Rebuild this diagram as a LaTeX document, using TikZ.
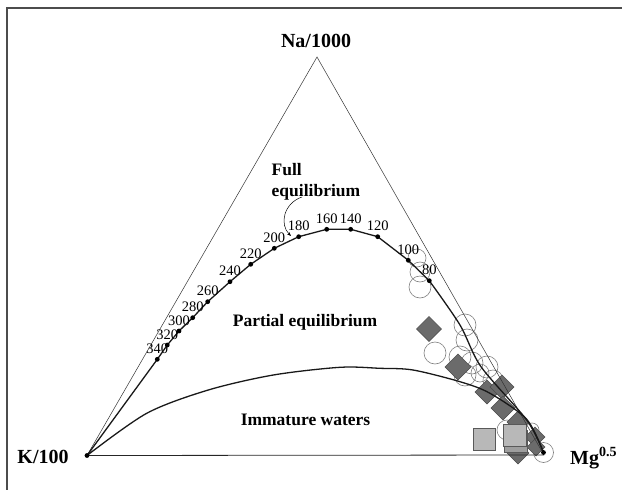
\documentclass[tikz,border=0pt]{standalone}
\usepackage{fontspec}
\setmainfont{Liberation Serif}
\usetikzlibrary{arrows.meta}
\begin{document}
\begin{tikzpicture}[x=1pt,y=-1pt,
  bigtxt/.style={font=\fontsize{17.5}{20}\selectfont\bfseries, inner sep=0pt},
  axtxt/.style={font=\fontsize{20}{22}\selectfont\bfseries, inner sep=0pt},
  numtxt/.style={font=\fontsize{14.5}{16}\selectfont, inner sep=0pt},
  tri/.style={line width=0.5pt, black!80},
  curve/.style={line width=1.3pt, black!90},
  circmark/.style={draw=black!50, line width=0.6pt},
  diammark/.style={fill=black!58, draw=black!70, line width=0.5pt},
  sqmark/.style={fill=black!28, draw=black!65, line width=0.6pt},
  dotmark/.style={fill=black}
]
\useasboundingbox (0,0) rectangle (622,490);
% frame (only top and left visible)
\draw[line width=1.6pt, black!70] (7,490) -- (7,8) -- (622,8);

% triangle vertices
\coordinate (K) at (87,455.5);
\coordinate (M) at (544,455);
\coordinate (N) at (317,57);

% circles
\foreach \x/\y/\r in {417/258/9, 420/272/10, 420/287/11,
  465/325/11, 467/340/11, 435/353/11, 460/357/11, 472/363/11,
  487/367/11, 465/375/11, 493/380/10, 480/373/9, 507/430/10, 532/430/7, 543.5/452.5/10}
  \draw[circmark] (\x,\y) circle (\r);

% diamonds
\foreach \x/\y/\h in {429/329/12.5, 458/367/13, 487/392/12, 502/387/12,
  503/408/12, 518/422/11, 518/453/11, 535/437/10, 536/447/9}
  \draw[diammark] (\x,\y-\h) -- (\x+\h,\y) -- (\x,\y+\h) -- (\x-\h,\y) -- cycle;

% squares
\draw[sqmark] (473.5,428) rectangle (495.5,450);
\draw[sqmark, fill=black!38] (504,430.5) rectangle (527,452.5);
\draw[sqmark] (503,424) rectangle (526,446);

% triangle
\draw[tri] (K) -- (N) -- (M);
\draw[line width=0.8pt, black!85] (K) -- (M);

% immature waters boundary
\draw[curve] plot[smooth, tension=0.5] coordinates {(87,455.5) (146.7,413.3) (208.3,390) (273.3,375) (340,367.3) (380,368.3) (413,370) (460,381.7) (490,393.3) (526.7,419.3) (543.5,452.5)};

% full equilibrium curve
\draw[curve] (87,455.5) -- (157.3,359.3) -- (167.3,345) -- (179,331) -- (192.7,317.7) -- (207.7,301.7) -- (230,281.7) -- (250.7,264.3) -- (274.3,248.3) -- (298.7,236.7) -- (326.7,229.3) -- (350.7,229.3) -- (377.7,236.7) -- (408.3,260.3) -- (429.3,280.7);
\draw[curve] plot[smooth, tension=0.5] coordinates {(429.3,280.7) (460,325) (481,366.7) (526.7,420) (543.5,452.5)};

% dots and temperature labels
\foreach \x/\y/\t in {157.3/359.3/340, 167.3/345/320, 179/331/300, 192.7/317.7/280,
  207.7/301.7/260, 230/281.7/240, 250.7/264.3/220, 274.3/248.3/200, 298.7/236.7/180,
  326.7/229.3/160, 350.7/229.3/140, 377.7/236.7/120, 408.3/260.3/100, 429.3/280.7/80}
{
  \fill[dotmark] (\x,\y) circle (2.4);
  \node[numtxt] at (\x,\y-10.5) {\t};
}
\fill[dotmark] (K) circle (2.4);
\fill[dotmark] (543.5,452.5) circle (2.4);

% labels
\node[axtxt] (na) at (316,41) {Na/1000};
\node[axtxt] (k) at (43,456.5) {K/100};
\node[axtxt, anchor=west] (mg) at (570,458) {Mg\textsuperscript{0.5}};
\node[bigtxt, anchor=west] (full) at (271.5,170) {Full};
\node[bigtxt, anchor=west] (eq) at (271.5,192) {equilibrium};
\node[bigtxt] (pe) at (305,322) {Partial equilibrium};
\node[bigtxt] (im) at (305.5,420) {Immature waters};

% leader from "equilibrium" to the curve
\coordinate (ls) at (302,197);
\coordinate (le) at (291,236);
\draw[line width=0.5pt, -{Stealth[length=4pt,width=3pt]}] (ls) .. controls (284,203) and (279,224) .. (le);
\end{tikzpicture}
\end{document}
